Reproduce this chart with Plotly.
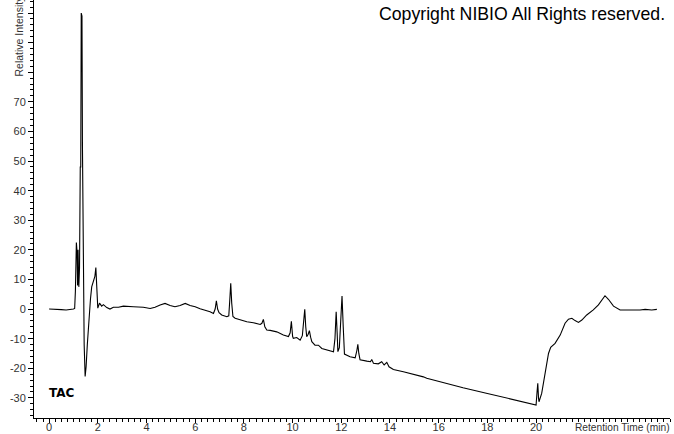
import plotly.graph_objects as go

time_min = [0, 0.3, 0.5, 0.7, 0.9, 1.0, 1.05, 1.08, 1.12, 1.15, 1.17, 1.19, 1.22, 1.25, 1.28, 1.30,
            1.32, 1.35, 1.37, 1.40, 1.44, 1.48, 1.52, 1.57, 1.63, 1.70, 1.75, 1.82, 1.88, 1.92, 1.95,
            2.0, 2.07, 2.16, 2.23, 2.37, 2.5, 2.64, 2.85, 3.05, 3.46, 3.87, 4.15, 4.35, 4.56, 4.76,
            4.97, 5.17, 5.38, 5.59, 5.79, 6.0, 6.2, 6.41, 6.61, 6.75, 6.82, 6.87, 6.92, 6.98, 7.09,
            7.3, 7.38, 7.42, 7.46, 7.50, 7.55, 7.64, 7.84, 8.12, 8.39, 8.67, 8.74, 8.8, 8.86, 8.94,
            9.08, 9.35, 9.62, 9.83, 9.9, 9.95, 10.0, 10.03, 10.17, 10.31, 10.4, 10.47, 10.5, 10.54,
            10.58, 10.64, 10.69, 10.74, 10.79, 10.92, 11.06, 11.2, 11.54, 11.68, 11.74, 11.79, 11.83,
            11.86, 11.92, 11.97, 12.03, 12.08, 12.13, 12.36, 12.57, 12.64, 12.68, 12.72, 12.77, 13.05,
            13.2, 13.25, 13.32, 13.52, 13.66, 13.76, 13.87, 13.96, 14.14, 14.55, 14.96, 15.37, 15.51,
            16.0, 17.0, 18.0, 19.0, 19.96, 20.0, 20.04, 20.07, 20.10, 20.12, 20.23, 20.37, 20.51,
            20.6, 20.78, 20.99, 21.19, 21.33, 21.47, 21.6, 21.74, 21.88, 22.08, 22.35, 22.56, 22.83,
            22.97, 23.18, 23.45, 24.27, 24.48, 24.75, 24.96]
intensity = [0, 0, -0.2, -0.3, -0.2, 0, 0.2, 6, 22.5, 19, 8, 20, 7.5, 14, 48, 48,
             100, 99, 55, 15, -12, -22.8, -19.5, -12, -3, 3.5, 7.5, 9.5, 11, 14, 8,
             0.3, 2, 1, 1.5, 0.5, 0, 0.6, 0.6, 1, 0.8, 0.6, 0.2, 0.6, 1.4, 1.9,
             1.2, 0.8, 1.2, 1.9, 1.2, 0.8, 0.1, -0.3, -0.9, -1.5, 0, 2.8, 0, -1.2, -2,
             -2.6, -2.3, 3, 8.7, 2, -2.5, -3.1, -3.7, -4.3, -4.6, -5.2, -4.8, -3.5, -6, -7.1,
             -7.2, -7.7, -8.8, -9.3, -8, -4.1, -9.2, -9.9, -9.6, -10.5, -9, -1.5, -0.1, -6,
             -9.3, -8.5, -7.3, -9.5, -11, -12.2, -12.2, -13.3, -13.9, -14.4, -10, -0.9, -8,
             -14.4, -13, -2, 4.4, -6, -15.2, -16.1, -16.5, -14, -11.9, -15, -17.1, -17.6,
             -17.8, -17.0, -18.3, -18.5, -17.8, -18.9, -18, -19.5, -20.4, -21.2, -22, -22.9, -23.4,
             -24.5, -26.6, -28.5, -30.4, -32.4, -32.4, -28, -25.1, -30, -31.3, -28.5, -21.7, -15,
             -12.9, -11.6, -8.8, -4.8, -3.4, -3.1, -3.9, -4.5, -3.7, -2, -0.3, 1.4, 4.5,
             3.3, 1, -0.3, -0.3, -0.1, -0.3, -0.1]

x_tick_vals = [0, 2, 4, 6, 8, 10, 12, 14, 16, 18, 20]
x_tick_text = ["0", "2", "4", "6", "8", "10", "12", "14", "16", "18", "20"]
y_tick_vals = [-30, -20, -10, 0, 10, 20, 30, 40, 50, 60, 70, 80, 90, 100]
y_tick_text = ["-30", "-20", "-10", "0", "10", "20", "30", "40", "50", "60", "70", "", "", ""]

W, H = 674, 434
ML, MR, MT, MB = 34, 4, 0, 16
PW, PH = W - ML - MR, H - MT - MB

fig = go.Figure()
fig.add_trace(go.Scatter(x=time_min, y=intensity, mode="lines",
                         line=dict(color="black", width=1.1), hoverinfo="skip"))

fig.update_layout(
    width=W, height=H,
    margin=dict(l=ML, r=MR, t=MT, b=MB, pad=0, autoexpand=False),
    paper_bgcolor="white", plot_bgcolor="white",
    showlegend=False,
    font=dict(family="Liberation Sans, Arial, sans-serif", size=11, color="#333"),
    xaxis=dict(range=[-0.62, 25.5], tickmode="array", tickvals=x_tick_vals, ticktext=x_tick_text,
               ticks="outside", ticklen=4, tickcolor="black", tickwidth=1, automargin=False,
               ticklabelstandoff=-5,
               showline=True, linecolor="black", linewidth=1, showgrid=False, zeroline=False,
               minor=dict(dtick=0.25, tick0=0, ticks="outside", ticklen=3, tickcolor="black", showgrid=False),
               tickfont=dict(size=11, color="#333")),
    yaxis=dict(range=[-36.8, 104.4], tickmode="array", tickvals=y_tick_vals, ticktext=y_tick_text,
               ticks="outside", ticklen=5, tickcolor="black", tickwidth=1, automargin=False,
               showline=True, linecolor="black", linewidth=1, showgrid=False, zeroline=False,
               minor=dict(dtick=2, tick0=0, ticks="outside", ticklen=3, tickcolor="black", showgrid=False),
               tickfont=dict(size=11, color="#333")),
)

fig.add_annotation(xref="paper", yref="paper", x=(672 - ML) / PW, y=(H - MB - 427) / PH,
                   text="Retention Time (min)", showarrow=False, xanchor="right", yanchor="middle",
                   font=dict(size=10.2, color="#333"))
fig.add_annotation(xref="paper", yref="paper", x=(18 - ML) / PW, y=(H - MB - 79) / PH,
                   text="Relative Intensity", textangle=-90, showarrow=False,
                   xanchor="center", yanchor="bottom", font=dict(size=10.5, color="#333"))
fig.add_annotation(xref="paper", yref="paper", x=(667 - ML) / PW, y=(H - MB - 14) / PH,
                   text="Copyright NIBIO All Rights reserved.", showarrow=False,
                   xanchor="right", yanchor="middle", font=dict(size=17.7, color="black"))
fig.add_annotation(xref="paper", yref="paper", x=(47 - ML) / PW, y=(H - MB - 393) / PH,
                   text="<b>TAC</b>", showarrow=False, xanchor="left", yanchor="middle",
                   font=dict(family="DejaVu Sans, Verdana, sans-serif", size=12, color="black"))

fig.write_html("out.html", config={"displayModeBar": False, "staticPlot": True},
               post_script="document.body.style.margin='0';document.body.style.overflow='hidden';")
